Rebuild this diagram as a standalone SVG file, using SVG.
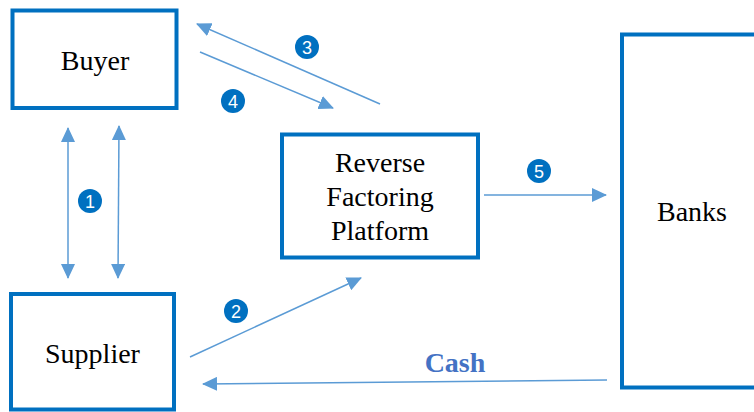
<svg xmlns="http://www.w3.org/2000/svg" width="754" height="412" viewBox="0 0 754 412">
  <style>
    .box { fill: #ffffff; stroke: #0070C0; stroke-width: 4; }
    .lbl { font-family: 'Liberation Serif', 'Times New Roman', Times, serif; font-size: 28px; fill: #000000; text-anchor: middle; }
    .conn { stroke: #5B9BD5; stroke-width: 1.5; fill: none; }
    .badge circle { fill: #0070C0; }
    .badge text { font-family: 'Liberation Sans', Arial, sans-serif; font-size: 18px; fill: #ffffff; text-anchor: middle; }
    .cash { font-family: 'Liberation Serif', 'Times New Roman', Times, serif; font-size: 28px; font-weight: bold; fill: #4472C4; text-anchor: middle; }
  </style>
  <defs>
    <marker id="ah" markerUnits="userSpaceOnUse" markerWidth="16" markerHeight="14" refX="14" refY="7" orient="auto-start-reverse" viewBox="0 0 16 14">
      <path d="M0,0 L15,7 L0,14 Z" fill="#5B9BD5"/>
    </marker>
  </defs>
  <rect width="754" height="412" fill="#ffffff"/>

  <g id="buyer">
    <rect class="box" x="12.5" y="10.5" width="164" height="97.5"/>
    <text class="lbl" font-family="Liberation Serif, serif" x="95" y="70">Buyer</text>
  </g>
  <g id="supplier">
    <rect class="box" x="11" y="294" width="163" height="115.5"/>
    <text class="lbl" font-family="Liberation Serif, serif" x="92.5" y="363">Supplier</text>
  </g>
  <g id="platform">
    <rect class="box" x="282" y="134.5" width="196" height="123"/>
    <text class="lbl" font-family="Liberation Serif, serif" x="380" y="172">Reverse</text>
    <text class="lbl" font-family="Liberation Serif, serif" x="380" y="206">Factoring</text>
    <text class="lbl" font-family="Liberation Serif, serif" x="380" y="240">Platform</text>
  </g>
  <g id="banks">
    <rect class="box" x="622" y="34.5" width="150" height="353"/>
    <text class="lbl" font-family="Liberation Serif, serif" x="692" y="221">Banks</text>
  </g>

  <g id="connectors">
    <line class="conn" x1="68" y1="278" x2="68" y2="128" marker-start="url(#ah)" marker-end="url(#ah)"/>
    <line class="conn" x1="118" y1="278" x2="119" y2="126" marker-start="url(#ah)" marker-end="url(#ah)"/>
    <line class="conn" x1="190" y1="357" x2="361" y2="278" marker-end="url(#ah)"/>
    <line class="conn" x1="380" y1="104" x2="197" y2="24" marker-end="url(#ah)"/>
    <line class="conn" x1="200" y1="52" x2="333" y2="108" marker-end="url(#ah)"/>
    <line class="conn" x1="484" y1="195" x2="606" y2="195" marker-end="url(#ah)"/>
    <line class="conn" x1="607" y1="380" x2="203" y2="384" marker-end="url(#ah)"/>
    <text class="cash" x="455" y="372">Cash</text>
  </g>

  <g id="badges">
    <g class="badge" id="badge1"><circle cx="90" cy="201" r="12"/><text x="90" y="207.5">1</text></g>
    <g class="badge" id="badge2"><circle cx="236" cy="311" r="12"/><text x="236" y="317.5">2</text></g>
    <g class="badge" id="badge3"><circle cx="307" cy="47" r="12"/><text x="307" y="53.5">3</text></g>
    <g class="badge" id="badge4"><circle cx="233" cy="101" r="12"/><text x="233" y="107.5">4</text></g>
    <g class="badge" id="badge5"><circle cx="539" cy="171" r="12"/><text x="539" y="177.5">5</text></g>
  </g>
</svg>
